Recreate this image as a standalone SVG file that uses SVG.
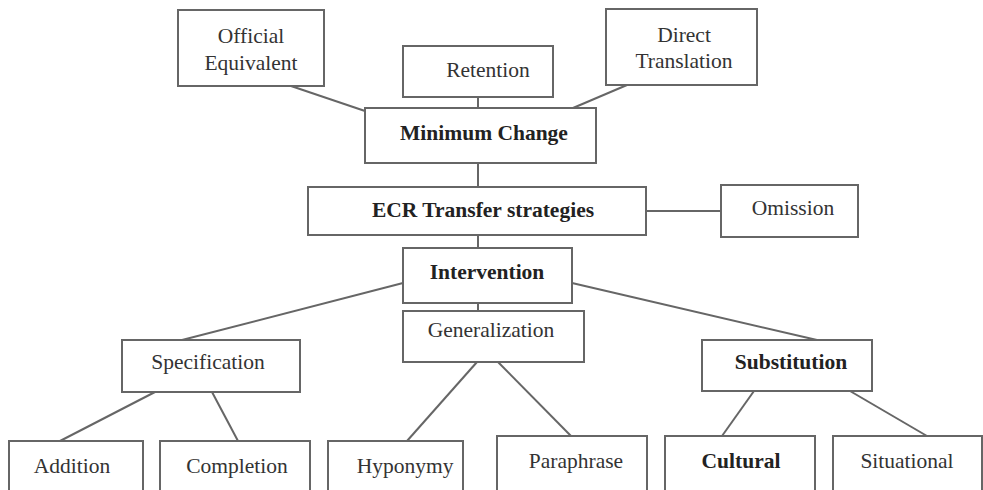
<svg xmlns="http://www.w3.org/2000/svg" width="983" height="490" viewBox="0 0 983 490">
<style>
.box{fill:#fff;stroke:#666;stroke-width:2}
.ln{stroke:#666;stroke-width:2;fill:none}
text{font-family:"Liberation Serif","Times New Roman",serif;font-size:21.5px;fill:#333;text-anchor:middle}
.b{font-weight:bold;fill:#222}
</style>
<rect width="983" height="490" fill="#fff"/>
<g id="connectors">
<line class="ln" x1="291" y1="86" x2="365" y2="111"/>
<line class="ln" x1="478" y1="97" x2="478" y2="108"/>
<line class="ln" x1="627" y1="85" x2="573" y2="108"/>
<line class="ln" x1="478" y1="163" x2="478" y2="187"/>
<line class="ln" x1="646" y1="211" x2="721" y2="211"/>
<line class="ln" x1="478" y1="235" x2="478" y2="248"/>
<line class="ln" x1="478" y1="303" x2="478" y2="311"/>
<line class="ln" x1="403" y1="283" x2="182" y2="340"/>
<line class="ln" x1="572" y1="283" x2="817" y2="340"/>
<line class="ln" x1="155" y1="392" x2="60" y2="441"/>
<line class="ln" x1="212" y1="392" x2="238" y2="441"/>
<line class="ln" x1="477" y1="362" x2="407" y2="441"/>
<line class="ln" x1="498" y1="362" x2="571" y2="436"/>
<line class="ln" x1="754" y1="391" x2="722" y2="436"/>
<line class="ln" x1="850" y1="391" x2="927" y2="436"/>
</g>
<g id="official"><rect class="box" x="178" y="10" width="146" height="76"/><text x="251" y="43">Official</text><text x="251" y="70">Equivalent</text></g>
<g id="retention"><rect class="box" x="403" y="46" width="150" height="51"/><text x="488" y="77">Retention</text></g>
<g id="direct"><rect class="box" x="606" y="9" width="151" height="76"/><text x="684" y="42">Direct</text><text x="684" y="68">Translation</text></g>
<g id="minimum"><rect class="box" x="365" y="108" width="231" height="55"/><text class="b" x="484" y="140">Minimum Change</text></g>
<g id="ecr"><rect class="box" x="308" y="187" width="338" height="48"/><text class="b" x="483" y="217">ECR Transfer strategies</text></g>
<g id="omission"><rect class="box" x="721" y="185" width="137" height="52"/><text x="793" y="215">Omission</text></g>
<g id="intervention"><rect class="box" x="403" y="248" width="169" height="55"/><text class="b" x="487" y="279">Intervention</text></g>
<g id="generalization"><rect class="box" x="403" y="311" width="181" height="51"/><text x="491" y="337">Generalization</text></g>
<g id="specification"><rect class="box" x="122" y="340" width="178" height="52"/><text x="208" y="369">Specification</text></g>
<g id="substitution"><rect class="box" x="702" y="340" width="170" height="51"/><text class="b" x="791" y="369">Substitution</text></g>
<g id="addition"><rect class="box" x="9" y="441" width="134" height="60"/><text x="72" y="473">Addition</text></g>
<g id="completion"><rect class="box" x="160" y="441" width="150" height="60"/><text x="237" y="473">Completion</text></g>
<g id="hyponymy"><rect class="box" x="328" y="441" width="135" height="60"/><text x="405" y="473">Hyponymy</text></g>
<g id="paraphrase"><rect class="box" x="497" y="436" width="150" height="65"/><text x="576" y="468">Paraphrase</text></g>
<g id="cultural"><rect class="box" x="665" y="436" width="150" height="65"/><text class="b" x="741" y="468">Cultural</text></g>
<g id="situational"><rect class="box" x="833" y="436" width="149" height="65"/><text x="907" y="468">Situational</text></g>
</svg>
